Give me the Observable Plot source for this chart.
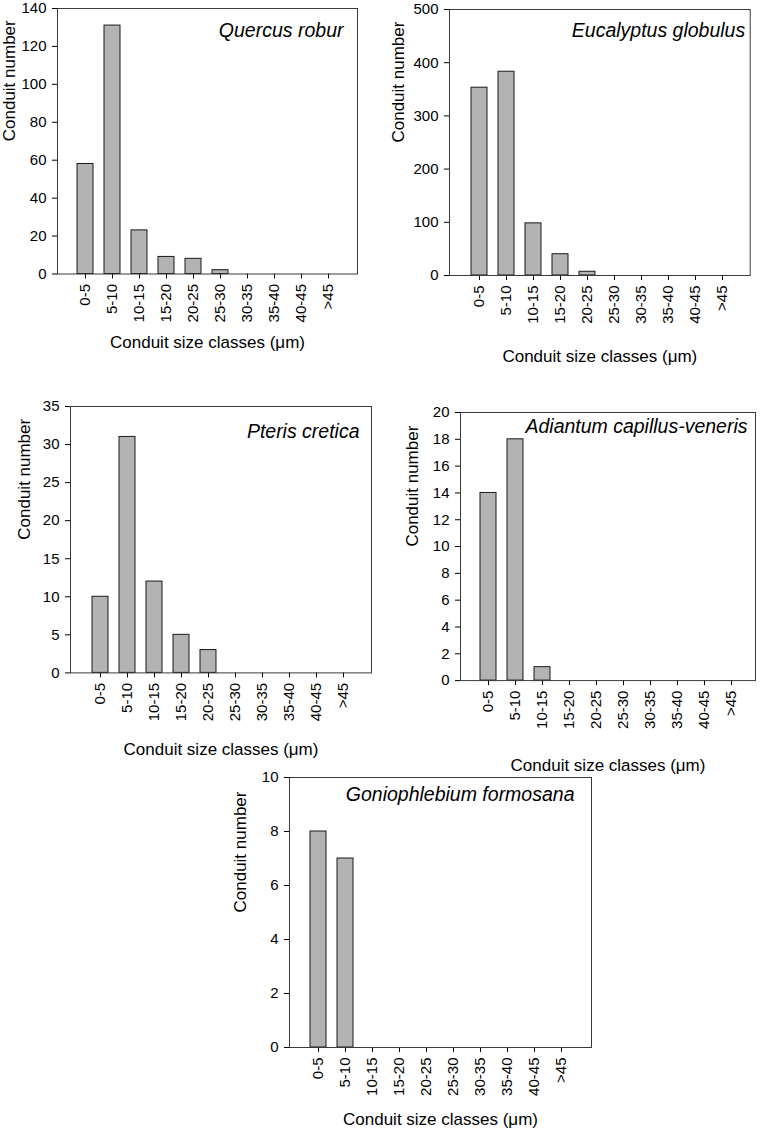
<!DOCTYPE html>
<html>
<head>
<meta charset="utf-8">
<script src="https://cdn.jsdelivr.net/npm/d3@7"></script>
<script src="https://cdn.jsdelivr.net/npm/@observablehq/plot@0.6"></script>
<style>
  html, body { margin: 0; padding: 0; background: #fff; overflow: hidden; }
  #root { position: relative; width: 762px; height: 1131px; overflow: hidden; }
  #root svg { position: absolute; overflow: visible; }
</style>
</head>
<body>
<div id="root"></div>
<script>
// ---- data ----
const classes = ["0-5", "5-10", "10-15", "15-20", "20-25", "25-30", "30-35", "35-40", "40-45", ">45"];
const quercus = [58, 131, 23, 9, 8, 2, 0, 0, 0, 0];
const eucalyptus = [353, 383, 98, 40, 7, 0, 0, 0, 0, 0];
const pteris = [10, 31, 12, 5, 3, 0, 0, 0, 0, 0];
const adiantum = [14, 18, 1, 0, 0, 0, 0, 0, 0, 0];
const goniophlebium = [8, 7, 0, 0, 0, 0, 0, 0, 0, 0];

const titles = ["Quercus robur", "Eucalyptus globulus", "Pteris cretica", "Adiantum capillus-veneris", "Goniophlebium formosana"];
const yMax = [140, 500, 35, 20, 10];
const yStep = [20, 100, 5, 2, 2];
const series = [quercus, eucalyptus, pteris, adiantum, goniophlebium];
const yLabel = "Conduit number";
const xLabel = "Conduit size classes (\u03bcm)";

// ---- layout (page coordinates of each frame) ----
const layout = [
  {fx0: 57,    fx1: 357, fy0: 7.8,   fy1: 273.3,  c0: 85,    c9: 329,   ylx: -47.5, xly: 69,   tdx: -14, tdy: 28},
  {fx0: 449.3, fx1: 750, fy0: 9.3,   fy1: 275.3,  c0: 477.3, c9: 725,   ylx: -51.3, xly: 80.7, tdx: -5,  tdy: 28},
  {fx0: 70,    fx1: 371, fy0: 406.3, fy1: 672.7,  c0: 99.3,  c9: 344.3, ylx: -46,   xly: 77,   tdx: -12, tdy: 32},
  {fx0: 460,   fx1: 755, fy0: 411.9, fy1: 680,    c0: 487.7, c9: 731.7, ylx: -48,   xly: 85,   tdx: -8,  tdy: 21},
  {fx0: 289,   fx1: 591, fy0: 776.7, fy1: 1046.7, c0: 316.7, c9: 562.3, ylx: -49,   xly: 72.5, tdx: -17, tdy: 23.3}
];

const font = "'Liberation Sans', Arial, Helvetica, sans-serif";
const root = document.getElementById("root");
const mL = 62, mR = 5, mT = 4, mB = 100;

series.forEach((vals, i) => {
  const L = layout[i];
  const data = classes.map((c, j) => ({cls: c, n: vals[j]}));
  const left = L.fx0 - mL, top = L.fy0 - mT;
  const width = (L.fx1 - L.fx0) + mL + mR;
  const height = (L.fy1 - L.fy0) + mT + mB;
  const step = (L.c9 - L.c0) / 9;
  const ticks = d3.range(0, yMax[i] + yStep[i] / 2, yStep[i]);
  const chart = Plot.plot({
    width, height,
    marginLeft: mL, marginRight: mR, marginTop: mT, marginBottom: mB,
    style: {fontFamily: font, fontSize: "15px", color: "#000", background: "transparent", overflow: "visible"},
    x: {
      type: "band", domain: classes,
      range: [L.c0 - step / 2 - left, L.c9 + step / 2 - left],
      paddingInner: 0.39, paddingOuter: 0.195,
      label: null, tickRotate: -90, tickSize: 5, tickPadding: 5
    },
    y: {domain: [0, yMax[i]], ticks, tickSize: 5, tickPadding: 6, label: null},
    marks: [
      Plot.barY(data, {x: "cls", y: "n", fill: "#b3b3b3", stroke: "#1a1a1a", strokeWidth: 1}),
      Plot.frame({stroke: "#3a3a3a", strokeWidth: 1}),
      Plot.text([titles[i]], {frameAnchor: "top-right", textAnchor: "end", lineAnchor: "bottom",
        dx: L.tdx, dy: L.tdy, fontSize: 19.5, fontStyle: "italic", fill: "#000"}),
      Plot.text([yLabel], {frameAnchor: "left", dx: L.ylx, rotate: -90, fontSize: 17, fill: "#000"}),
      Plot.text([xLabel], {frameAnchor: "bottom", dy: L.xly, lineAnchor: "middle", fontSize: 17, fill: "#000"})
    ]
  });
  chart.style.left = left + "px";
  chart.style.top = top + "px";
  root.appendChild(chart);
});
</script>
</body>
</html>
